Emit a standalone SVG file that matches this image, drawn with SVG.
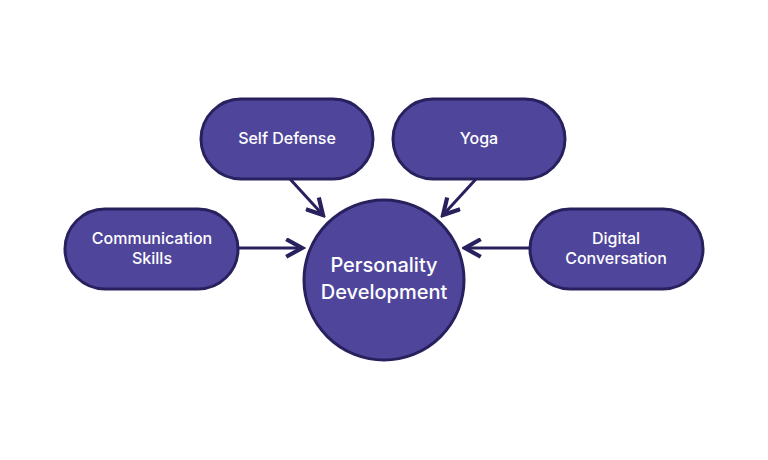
<svg xmlns="http://www.w3.org/2000/svg" width="768" height="460" viewBox="0 0 768 460">
<style>
.n{fill:#4f469c;stroke:#28215e;stroke-width:3}
.t{fill:#fff;font-family:Inter,"Noto Sans",sans-serif;font-size:16px;font-weight:500;text-anchor:middle}
.b{font-size:20px}
.c{stroke:#28215e;stroke-width:3;fill:none;marker-end:url(#ah)}
</style>
<defs>
<marker id="ah" viewBox="0 0 12 12" refX="10" refY="6" markerWidth="7" markerHeight="7" orient="auto" markerUnits="strokeWidth">
<path d="M1,1 L10,6 L1,11" fill="none" stroke="#28215e" stroke-width="2.4" stroke-linejoin="miter"/>
</marker>
</defs>
<rect width="768" height="460" fill="#fff"/>
<g id="connectors">
<line class="c" x1="290" y1="179" x2="323" y2="215"/>
<line class="c" x1="476" y1="179" x2="443" y2="215"/>
<line class="c" x1="239" y1="248" x2="302" y2="248"/>
<line class="c" x1="530" y1="248" x2="465" y2="248"/>
</g>
<g id="self-defense">
<rect class="n" x="201" y="99" width="172" height="80" rx="40"/>
<text class="t" x="287" y="144">Self Defense</text>
</g>
<g id="yoga">
<rect class="n" x="393" y="99" width="172" height="80" rx="40"/>
<text class="t" x="479" y="144">Yoga</text>
</g>
<g id="communication-skills">
<rect class="n" x="65" y="209" width="173" height="80" rx="40"/>
<text class="t" x="152" y="244">Communication</text>
<text class="t" x="152" y="264">Skills</text>
</g>
<g id="digital-conversation">
<rect class="n" x="530" y="209" width="173" height="80" rx="40"/>
<text class="t" x="616" y="244">Digital</text>
<text class="t" x="616" y="264">Conversation</text>
</g>
<g id="personality-development">
<circle class="n" cx="384" cy="280" r="80" stroke-width="3.5"/>
<text class="t b" x="384" y="272">Personality</text>
<text class="t b" x="384" y="299">Development</text>
</g>
</svg>
